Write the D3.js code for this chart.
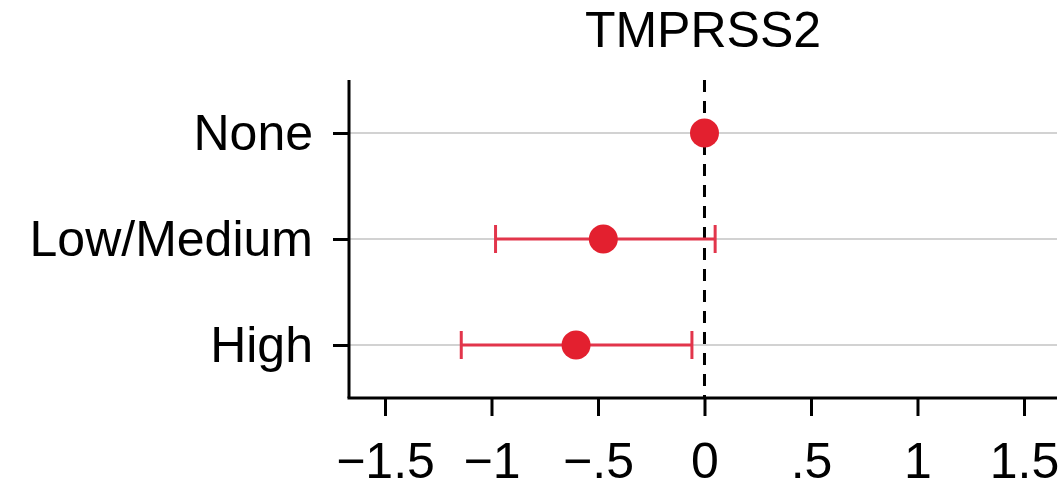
<!DOCTYPE html>
<html>
<head>
<meta charset="utf-8">
<script src="https://cdn.jsdelivr.net/npm/d3@7"></script>
<style>
  html, body { margin: 0; padding: 0; background: #fff; }
  svg { display: block; }
  text { font-family: "Liberation Sans", Arial, Helvetica, sans-serif; }
</style>
</head>
<body>
<svg id="chart" width="1064" height="488"></svg>
<script>
const title = "TMPRSS2";
const categories = ["None", "Low/Medium", "High"];
const estimates = [0, -0.475, -0.603];
const ciLower = [null, -0.981, -1.142];
const ciUpper = [null, 0.050, -0.059];
const xTicks = [-1.5, -1, -0.5, 0, 0.5, 1, 1.5];
const xTickLabels = ["\u22121.5", "\u22121", "\u2212.5", "0", ".5", "1", "1.5"];

(function () {
const svg = d3.select("#chart");
const mLeft = 349, mRight = 1057, mTop = 80, mBottom = 398;

const x = d3.scaleLinear().domain([-1.669, 1.655]).range([mLeft, mRight]);
const y = d3.scalePoint().domain(categories).range([mTop, mBottom]).padding(0.5);

const red = "#e3202f";
const redLine = "#e2354b";

// gridlines
svg.append("g").selectAll("line").data(categories).join("line")
  .attr("x1", mLeft).attr("x2", mRight)
  .attr("y1", d => y(d)).attr("y2", d => y(d))
  .attr("stroke", "#d2d2d2").attr("stroke-width", 2);

// reference line at 0
svg.append("line")
  .attr("x1", x(0)).attr("x2", x(0))
  .attr("y1", mTop).attr("y2", mBottom)
  .attr("stroke", "#000").attr("stroke-width", 3)
  .attr("stroke-dasharray", "12,9");

// axes
const xAxis = d3.axisBottom(x).tickValues(xTicks)
  .tickFormat((d, i) => xTickLabels[i]).tickSize(18).tickPadding(26).tickSizeOuter(0);
const gx = svg.append("g").attr("transform", `translate(0,${mBottom})`).call(xAxis);
gx.select(".domain").attr("stroke", "#000").attr("stroke-width", 3)
  .attr("d", `M${mLeft - 1.5},0H${mRight}`);
gx.selectAll(".tick line").attr("stroke", "#000").attr("stroke-width", 3);
gx.selectAll(".tick text").attr("font-size", 50).attr("fill", "#000")
  .style("font-family", '"Liberation Sans", Arial, sans-serif');

const yAxis = d3.axisLeft(y).tickSize(16).tickPadding(20).tickSizeOuter(0);
const gy = svg.append("g").attr("transform", `translate(${mLeft},0)`).call(yAxis);
gy.select(".domain").attr("stroke", "#000").attr("stroke-width", 3)
  .attr("d", `M0,${mTop}V${mBottom}`);
gy.selectAll(".tick line").attr("stroke", "#000").attr("stroke-width", 3);
gy.selectAll(".tick text").attr("font-size", 50).attr("fill", "#000")
  .attr("dy", "0.33em")
  .style("font-family", '"Liberation Sans", Arial, sans-serif');

// error bars
const rows = categories.map((c, i) => ({c, est: estimates[i], lo: ciLower[i], hi: ciUpper[i]}));
const withCI = rows.filter(r => r.lo !== null);
const eb = svg.append("g");
eb.selectAll("line.bar").data(withCI).join("line").attr("class", "bar")
  .attr("x1", d => x(d.lo)).attr("x2", d => x(d.hi))
  .attr("y1", d => y(d.c)).attr("y2", d => y(d.c))
  .attr("stroke", redLine).attr("stroke-width", 3);
eb.selectAll("line.capl").data(withCI).join("line").attr("class", "capl")
  .attr("x1", d => x(d.lo)).attr("x2", d => x(d.lo))
  .attr("y1", d => y(d.c) - 14).attr("y2", d => y(d.c) + 14)
  .attr("stroke", redLine).attr("stroke-width", 3);
eb.selectAll("line.capr").data(withCI).join("line").attr("class", "capr")
  .attr("x1", d => x(d.hi)).attr("x2", d => x(d.hi))
  .attr("y1", d => y(d.c) - 14).attr("y2", d => y(d.c) + 14)
  .attr("stroke", redLine).attr("stroke-width", 3);

// points
svg.append("g").selectAll("circle").data(rows).join("circle")
  .attr("cx", d => x(d.est)).attr("cy", d => y(d.c))
  .attr("r", 14.5).attr("fill", red);

// title
svg.append("text")
  .attr("x", (mLeft + mRight) / 2).attr("y", 47)
  .attr("text-anchor", "middle").attr("font-size", 50).attr("fill", "#000")
  .text(title);
})();
</script>
</body>
</html>
